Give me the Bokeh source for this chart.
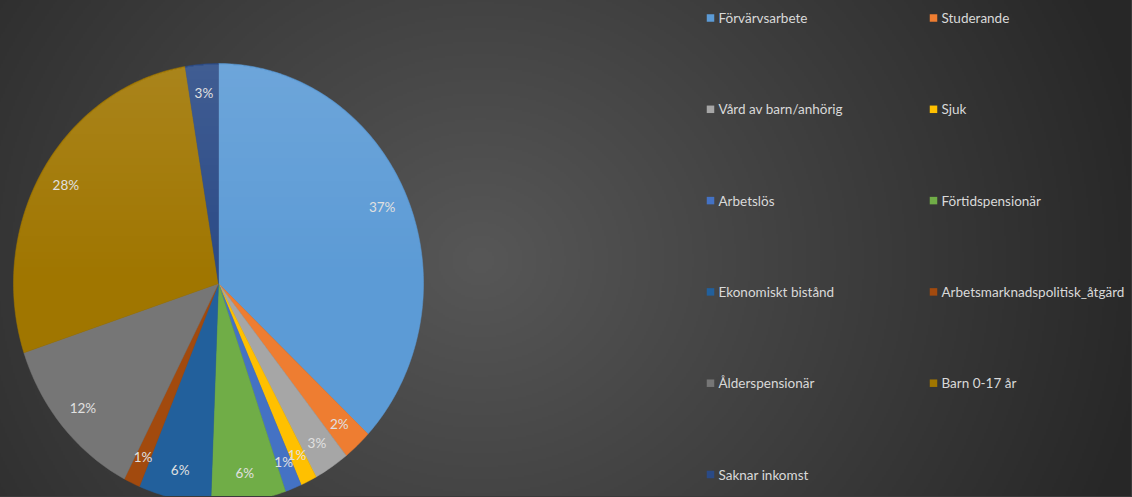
import numpy as np
from bokeh.plotting import figure
from bokeh.models import Range1d, ColumnDataSource
from bokeh.core.properties import value
from bokeh.embed import file_html
from bokeh.resources import INLINE

# ---------------- data ----------------
categories = ["Förvärvsarbete", "Studerande", "Vård av barn/anhörig", "Sjuk",
              "Arbetslös", "Förtidspensionär", "Ekonomiskt bistånd",
              "Arbetsmarknadspolitisk_åtgärd", "Ålderspensionär", "Barn 0-17 år",
              "Saknar inkomst"]
shares = [37.0, 2.3, 2.8, 1.3, 1.3, 5.9, 5.7, 1.3, 12.3, 27.5, 2.6]
pct_labels = ["37%", "2%", "3%", "1%", "1%", "6%", "6%", "1%", "12%", "28%", "3%"]
colors = ["#5C9BD6", "#EE7D31", "#A6A6A6", "#FFC000", "#4472C4", "#70AD47",
          "#22609C", "#A24A0E", "#767676", "#A07600", "#2A4A86"]

W, H = 1132, 497
# pie geometry in pixel space (y measured upward)
CX, CY = 218.0, H - 283.0
RX, RY = 205.0, 220.0

# figure is 1px larger on every side, shifted by CSS so its edges are hidden
p = figure(width=W + 2, height=H + 2, output_backend="svg", toolbar_location=None,
           x_range=Range1d(-1, W + 1), y_range=Range1d(-1, H + 1), min_border=0)
p.axis.visible = False
p.grid.visible = False
p.outline_line_color = None
p.background_fill_color = "#3a3a3a"
p.border_fill_color = "#3a3a3a"

# ---- background radial gradient ----
gw, gh = W // 2 + 4, (H + 1) // 2 + 4
gx = (np.arange(gw) + 0.5) * 2 - 4
gy = (np.arange(gh) + 0.5) * 2 - 4
GX, GY = np.meshgrid(gx, gy)
d = np.sqrt(((GX - 480) / 1.1) ** 2 + (GY - (H - 260)) ** 2)
t = np.clip(d / 620.0, 0, 1)
lev = (0x57 - t * (0x57 - 0x27)).astype(np.uint8)
bg = np.zeros((gh, gw), dtype=np.uint32)
v = bg.view(dtype=np.uint8).reshape((gh, gw, 4))
v[:, :, 0] = lev
v[:, :, 1] = lev
v[:, :, 2] = lev
v[:, :, 3] = 255
p.image_rgba(image=[bg], x=-4, y=-4, dw=gw * 2, dh=gh * 2)

# ---- pie slices as elliptical patches ----
fr = np.array(shares) / np.sum(shares)
ends = np.cumsum(fr)
starts = ends - fr
xs, ys = [], []
for s, e in zip(starts, ends):
    n = max(int((e - s) * 400), 4)
    th = np.linspace(s, e, n) * 2 * np.pi
    xs.append(list(np.concatenate([[CX], CX + RX * np.sin(th)])))
    ys.append(list(np.concatenate([[CY], CY + RY * np.cos(th)])))
src = ColumnDataSource(dict(xs=xs, ys=ys, color=colors, name=categories))
p.patches("xs", "ys", source=src, fill_color="color", line_color="color",
          line_width=0.5)

# ---- subtle top highlight on the pie ----
bx0, by0 = int(CX - RX), int(CY - RY)
bw, bh = int(2 * RX) + 1, int(2 * RY) + 1
px = bx0 + np.arange(bw) + 0.5
py = by0 + np.arange(bh) + 0.5
PX, PY = np.meshgrid(px, py)
inside = ((PX - CX) / RX) ** 2 + ((PY - CY) / RY) ** 2 < 0.992
a = np.clip((PY - CY) / RY, 0, 1) * 0.11
alpha = np.where(inside, a, 0.0)
hl = np.zeros((bh, bw), dtype=np.uint32)
hv = hl.view(dtype=np.uint8).reshape((bh, bw, 4))
hv[:, :, 0] = 255
hv[:, :, 1] = 255
hv[:, :, 2] = 255
hv[:, :, 3] = (alpha * 255).astype(np.uint8)
p.image_rgba(image=[hl], x=bx0, y=by0, dw=bw, dh=bh)

# ---- data labels ----
mids = (starts + ends) / 2 * 2 * np.pi
lx = CX + 0.87 * RX * np.sin(mids)
ly = CY + 0.87 * RY * np.cos(mids)
p.text(x=list(lx), y=list(ly), text=pct_labels, text_font=value("Lato"),
       text_font_size="13.5px", text_color="#e0e0e0", text_align="center",
       text_baseline="middle")

# ---- legend (two columns) ----
col_x = [710, 933]
row_y0, row_step = 17.5, 91.3
lgx = [col_x[i % 2] for i in range(len(categories))]
lgy = [H - (row_y0 + (i // 2) * row_step) for i in range(len(categories))]
p.scatter(x=lgx, y=lgy, marker="square", size=7.5, fill_color=colors,
          line_color=None)
p.text(x=[x + 8 for x in lgx], y=lgy, text=categories, text_font=value("Lato"),
       text_font_size="13.5px", text_color="#d9d9d9", text_align="left",
       text_baseline="middle")

html = file_html(p, INLINE)
css = ("<style>html,body{margin:0 !important;padding:0;background:#3a3a3a;"
       "overflow:hidden;}body{position:relative;top:-1px;left:-1px;}</style>")
html = html.replace("</head>", css + "</head>", 1)
open("out.html", "w").write(html)
